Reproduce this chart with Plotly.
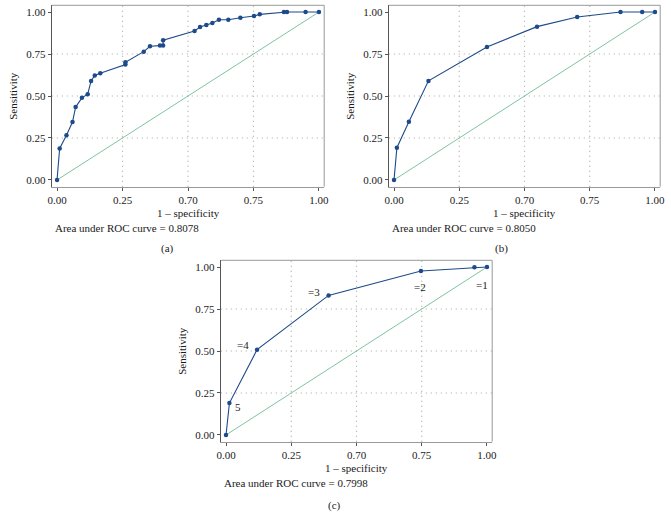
import plotly.graph_objects as go

W, H = 671, 527

# ---- data ----
a_fpr = [0, 0.010, 0.036, 0.059, 0.071, 0.095, 0.117, 0.130, 0.144, 0.165, 0.261, 0.261,
         0.331, 0.355, 0.393, 0.405, 0.405, 0.525, 0.546, 0.570, 0.593, 0.618, 0.654,
         0.700, 0.752, 0.774, 0.866, 0.878, 0.949, 1.0]
a_sens = [0, 0.188, 0.267, 0.345, 0.434, 0.489, 0.511, 0.590, 0.622, 0.636, 0.687, 0.701,
          0.764, 0.796, 0.800, 0.800, 0.832, 0.887, 0.911, 0.923, 0.935, 0.954, 0.954,
          0.966, 0.976, 0.986, 1.0, 1.0, 1.0, 1.0]
b_fpr = [0, 0.011, 0.057, 0.132, 0.356, 0.548, 0.702, 0.868, 0.951, 1.0]
b_sens = [0, 0.192, 0.347, 0.590, 0.792, 0.913, 0.970, 1.0, 1.0, 1.0]
c_fpr = [0, 0.013, 0.119, 0.393, 0.747, 0.952, 1.0]
c_sens = [0, 0.190, 0.508, 0.831, 0.976, 0.998, 1.0]
c_labels = ["5", "=4", "=3", "=2", "=1"]
c_label_x = [0.046, 0.064, 0.339, 0.744, 0.981]
c_label_y = [0.165, 0.536, 0.849, 0.881, 0.891]

tick_vals = [0, 0.25, 0.5, 0.75, 1.0]
x_tick_text = ["0.00", "0.25", "0.70", "0.75", "1.00"]
y_tick_text = ["0.00", "0.25", "0.50", "0.75", "1.00"]
grid_vals = [0.25, 0.5, 0.75]
diag = [0, 1]
auc_texts = ["Area under ROC curve = 0.8078", "Area under ROC curve = 0.8050",
             "Area under ROC curve = 0.7998"]
panel_names = ["(a)", "(b)", "(c)"]

CURVE = "#1d4a8a"
DIAG = "#7cc4a0"
FONT = "Liberation Serif"
TXT = "#1a1a1a"

def px(x):
    return x / W

def py(y):
    return 1 - y / H

# panel boxes in pixels: (left, right, top, bottom)
boxes = [(51.8, 324.2, 5.3, 186.7), (388.8, 660.2, 5.3, 186.7), (220.8, 492.2, 260.3, 441.7)]

fig = go.Figure()
series = [(a_fpr, a_sens), (b_fpr, b_sens), (c_fpr, c_sens)]
for i, (fx, sy) in enumerate(series):
    sfx = "" if i == 0 else str(i + 1)
    fig.add_trace(go.Scatter(x=diag, y=diag, mode="lines", line=dict(color=DIAG, width=1),
                             xaxis="x" + sfx, yaxis="y" + sfx, hoverinfo="skip"))
    fig.add_trace(go.Scatter(x=fx, y=sy, mode="lines+markers",
                             line=dict(color=CURVE, width=1.1),
                             marker=dict(color=CURVE, size=4.5),
                             xaxis="x" + sfx, yaxis="y" + sfx))
    l, r, t, b = boxes[i]
    common = dict(range=[-0.02, 1.02], tickvals=tick_vals, showgrid=False, zeroline=False,
                  ticks="outside", ticklen=3, tickcolor="#555", tickwidth=1, automargin=False,
                  tickfont=dict(family=FONT, size=11, color=TXT), mirror=False)
    fig.layout["xaxis" + sfx] = dict(common, domain=[px(l), px(r)], ticktext=x_tick_text,
                                     anchor="y" + sfx, showline=True, linecolor="#999", linewidth=1)
    fig.layout["yaxis" + sfx] = dict(common, range=[-0.04, 1.04], domain=[py(b), py(t)],
                                     ticktext=y_tick_text, anchor="x" + sfx,
                                     showline=True, linecolor="#555", linewidth=1.3)
    xr, yr = "x" + sfx, "y" + sfx
    for g in grid_vals:
        fig.add_shape(type="line", xref=xr, yref=yr + " domain", x0=g, x1=g, y0=0, y1=1,
                      line=dict(color="#a8a8a8", width=1.2, dash="1px,4px"), layer="below")
        fig.add_shape(type="line", xref=xr + " domain", yref=yr, x0=0, x1=1, y0=g, y1=g,
                      line=dict(color="#a8a8a8", width=1.2, dash="1px,4px"), layer="below")
    fig.add_shape(type="line", xref=xr + " domain", yref=yr + " domain", x0=0, x1=1, y0=1, y1=1,
                  line=dict(color="#999", width=1))
    fig.add_shape(type="line", xref=xr + " domain", yref=yr + " domain", x0=1, x1=1, y0=0, y1=1,
                  line=dict(color="#999", width=1))
    cx = (l + r) / 2
    fig.add_annotation(text="1 \u2013 specificity", x=px(cx), y=py(b + 26), xref="paper", yref="paper",
                       xanchor="center", yanchor="middle",
                       showarrow=False, font=dict(family=FONT, size=11, color=TXT))
    fig.add_annotation(text=auc_texts[i], x=px(l + 1), y=py(b + 41), xref="paper", yref="paper",
                       xanchor="left", yanchor="middle",
                       showarrow=False, font=dict(family=FONT, size=11, color=TXT))
    fig.add_annotation(text="Sensitivity", x=px(l - 39), y=py((t + b) / 2), xref="paper", yref="paper",
                       xanchor="center", yanchor="middle",
                       textangle=-90, showarrow=False, font=dict(family=FONT, size=11, color=TXT))

cap_pos = [(167, 248), (502, 248), (334, 505)]
for name, (cx, cy) in zip(panel_names, cap_pos):
    fig.add_annotation(text=name, x=px(cx), y=py(cy), xref="paper", yref="paper", showarrow=False,
                       xanchor="center", yanchor="middle",
                       font=dict(family=FONT, size=11, color=TXT))

for t, lx, ly in zip(c_labels, c_label_x, c_label_y):
    fig.add_annotation(text=t, x=lx, y=ly, xref="x3", yref="y3", showarrow=False,
                       xanchor="center", yanchor="middle",
                       font=dict(family=FONT, size=11, color=TXT))

fig.update_layout(width=W, height=H, margin=dict(l=0, r=0, t=0, b=0), showlegend=False,
                  plot_bgcolor="white", paper_bgcolor="white")
fig.write_html("out.html", config={"displayModeBar": False},
               post_script="document.body.style.margin='0';")
